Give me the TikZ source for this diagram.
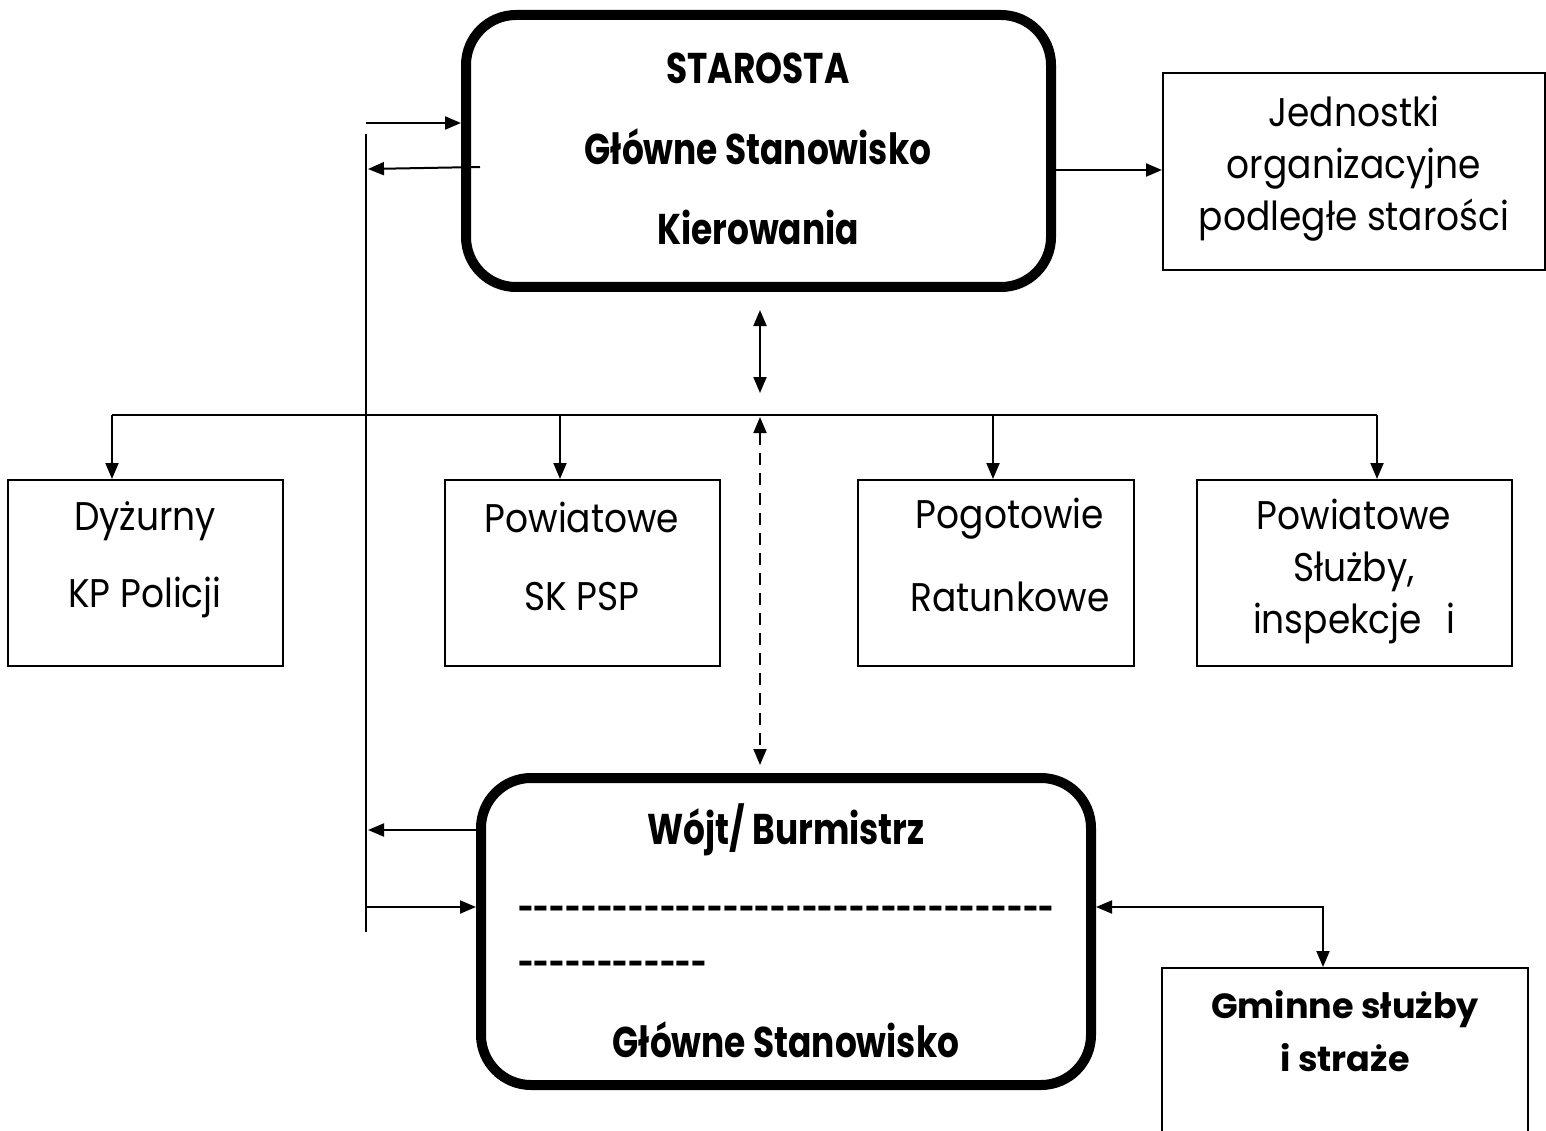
\documentclass[tikz,border=0pt]{standalone}
\usepackage{fontspec}
\setmainfont[FakeStretch=0.9]{Poppins}
\newfontfamily\boldcond[FakeStretch=0.8]{Poppins Bold}
\newfontfamily\boldwide{Poppins Bold}
\usetikzlibrary{arrows.meta}
\tikzset{
  >={Triangle[length=16pt,width=13pt]},
  thin line/.style={line width=2pt},
  bigbox/.style={draw, line width=10pt, rounded corners=50pt, inner sep=0pt},
  smallbox/.style={draw, line width=2pt, inner sep=0pt},
  normtext/.style={font=\fontsize{40}{52}\selectfont, align=center, inner sep=0pt},
  boldtext/.style={font=\boldcond\fontsize{43}{53}\selectfont, align=center, inner sep=0pt},
  dashtext/.style={font=\boldcond\fontsize{34}{53}\selectfont, inner sep=0pt, anchor=west},
  boldwtext/.style={font=\boldwide\fontsize{35}{53}\selectfont, align=center, inner sep=0pt},
}
\begin{document}
\begin{tikzpicture}[x=1pt,y=-1pt]
\clip (0,0) rectangle (1546,1131);
\fill[white] (0,0) rectangle (1546,1131);
% boxes
\node[bigbox, minimum width=585pt, minimum height=272pt] (star) at (758.5,151) {};
\node[smallbox, minimum width=382pt, minimum height=197pt] (jed) at (1354,171.5) {};
\node[smallbox, minimum width=275pt, minimum height=186pt] (dyz) at (145.5,573) {};
\node[smallbox, minimum width=275pt, minimum height=186pt] (psp) at (582.5,573) {};
\node[smallbox, minimum width=276pt, minimum height=186pt] (pog) at (996,573) {};
\node[smallbox, minimum width=315pt, minimum height=186pt] (sluz) at (1354.5,573) {};
\node[bigbox, minimum width=610pt, minimum height=307pt] (wojt) at (786,931.5) {};
\node[smallbox, minimum width=366pt, minimum height=200pt] (gmin) at (1345,1068) {};
% texts
\node[boldtext] (t1) at (758,68) {STAROSTA};
\node[boldtext] (t2) at (758,147) {Główne Stanowisko};
\node[boldtext] (t3) at (758,227) {Kierowania};
\node[normtext] (tjed) at (1354,169) {Jednostki\\organizacyjne\\podległe starości};
\node[normtext] (td1) at (145,521) {Dyżurny};
\node[normtext] (td2) at (145,597) {KP Policji};
\node[normtext] (tp1) at (582,517) {Powiatowe};
\node[normtext] (tp2) at (582,597) {SK PSP};
\node[normtext] (tg1) at (1010,519) {Pogotowie};
\node[normtext] (tg2) at (1010,597) {Ratunkowe};
\node[normtext] (ts) at (1354,571) {Powiatowe\\Służby,\\inspekcje\hspace{0.6em}i};
\node[boldtext] (tw1) at (786,830) {Wójt/ Burmistrz};
\node[dashtext] (tw2) at (518,913) {----------------------------------};
\node[dashtext] (tw3) at (518,968) {------------};
\node[boldtext] (tw4) at (786,1040) {Główne Stanowisko};
\node[boldwtext] (tgm) at (1345,1031) {Gminne służby\\i straże};
% connectors
\coordinate (vtop) at (366,134);
\coordinate (vbot) at (366,932);
\draw[thin line] (vtop) -- (vbot);
\draw[thin line, ->] (366,123) -- (star.west |- 0,123);
\draw[thin line, ->] (480,167) -- (368,169);
\draw[thin line, ->] (star.east |- 0,170) -- (jed.west |- 0,170);
\draw[thin line, <->] (760,310) -- (760,393);
\coordinate (hl) at (112,415);
\coordinate (hr) at (1377,415);
\draw[thin line] (hl) -- (hr);
\draw[thin line, ->] (hl) -- (dyz.north -| hl);
\draw[thin line, ->] (560,415) -- (psp.north -| 560,0);
\draw[thin line, ->] (993,415) -- (pog.north -| 993,0);
\draw[thin line, ->] (hr) -- (sluz.north -| hr);
\draw[thin line, dash pattern=on 12pt off 8pt, <->] (760,417) -- (760,765);
\draw[thin line, ->] (wojt.west |- 0,830) -- (368,830);
\draw[thin line, ->] (366,907) -- (wojt.west |- 0,907);
\draw[thin line, ->] (1323,907) -- (wojt.east |- 0,907);
\draw[thin line, ->] (1323,906) -- (gmin.north -| 1323,0);
\end{tikzpicture}
\end{document}
